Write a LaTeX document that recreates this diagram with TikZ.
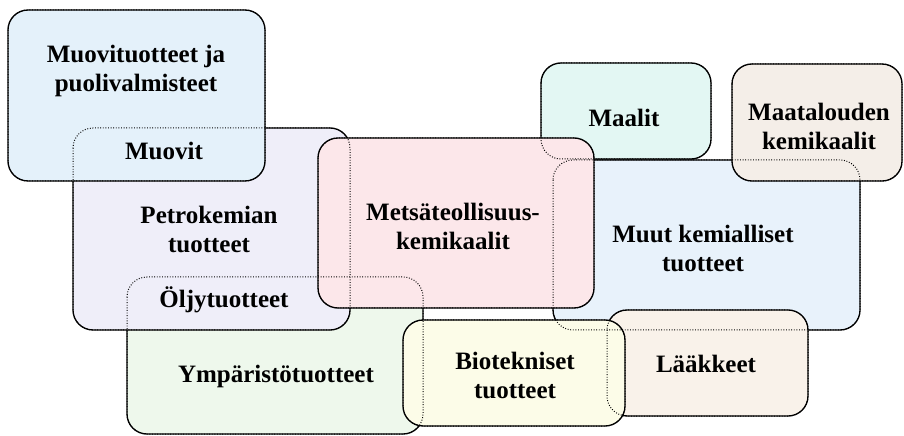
\documentclass[tikz,border=0pt]{standalone}
\usepackage{fontspec}
\setmainfont{Liberation Serif}
\usetikzlibrary{fit}
\definecolor{cA}{HTML}{E4F1FA}
\definecolor{cP}{HTML}{EFEEF9}
\definecolor{cY}{HTML}{EEF8EC}
\definecolor{cM}{HTML}{FCE7EA}
\definecolor{cMa}{HTML}{E3F7F3}
\definecolor{cT}{HTML}{F4EEE8}
\definecolor{cK}{HTML}{E8F2FB}
\definecolor{cB}{HTML}{FCFCE8}
\definecolor{cL}{HTML}{F9F2EA}
\tikzset{
  boxn/.style={draw=black, line width=1.3bp, rounded corners=20bp, inner sep=0pt, outer sep=0pt},
  hid/.style={draw=black, line width=1bp, dash pattern=on 0.9bp off 1.7bp, rounded corners=20bp},
  lbl/.style={font=\bfseries\fontsize{25bp}{29bp}\selectfont, align=center, inner sep=0pt}
}
\begin{document}
\begin{tikzpicture}[x=1bp,y=-1bp]
\useasboundingbox (0,0) rectangle (904,436);
\fill[white] (0,0) rectangle (904,436);
% boxes, bottom to top
\node[boxn, fill=cY,  fit={(127,277)(423,434)}] (bY) {};
\node[boxn, fill=cP,  fit={(73,128)(350,330)}]  (bP) {};
\node[boxn, fill=cA,  fit={(8,10)(265,181)}]    (bA) {};
\node[boxn, fill=cK,  fit={(553,160)(860,330)}] (bK) {};
\node[boxn, fill=cMa, fit={(541,63)(711,159)}]  (bMa) {};
\node[boxn, fill=cT,  fit={(732,64)(902,181)}]  (bT) {};
\node[boxn, fill=cM,  fit={(318,138)(594,308)}] (bM) {};
\node[boxn, fill=cL,  fit={(607,310)(808,416)}] (bL) {};
\node[boxn, fill=cB,  fit={(403,320)(625,426)}] (bB) {};
% hidden parts of borders
\foreach \n in {bY,bP,bA,bK,bMa,bT,bM,bL,bB}
  \draw[hid] (\n.north west) rectangle (\n.south east);
% labels
\node[lbl] (tA)  at (136,71)  {Muovituotteet ja\\puolivalmisteet};
\node[lbl] (tMv) at (164,151) {Muovit};
\node[lbl] (tP)  at (209,229) {Petrokemian\\tuotteet};
\node[lbl] (tO)  at (224,300) {Öljytuotteet};
\node[lbl] (tY)  at (276,376) {Ympäristötuotteet};
\node[lbl] (tM)  at (453,226) {Metsäteollisuus-\\kemikaalit};
\node[lbl] (tMa) at (624,118) {Maalit};
\node[lbl] (tT)  at (819,126) {Maatalouden\\kemikaalit};
\node[lbl] (tK)  at (703,248) {Muut kemialliset\\tuotteet};
\node[lbl] (tB)  at (515,375) {Biotekniset\\tuotteet};
\node[lbl] (tL)  at (706,364) {Lääkkeet};
\end{tikzpicture}
\end{document}
